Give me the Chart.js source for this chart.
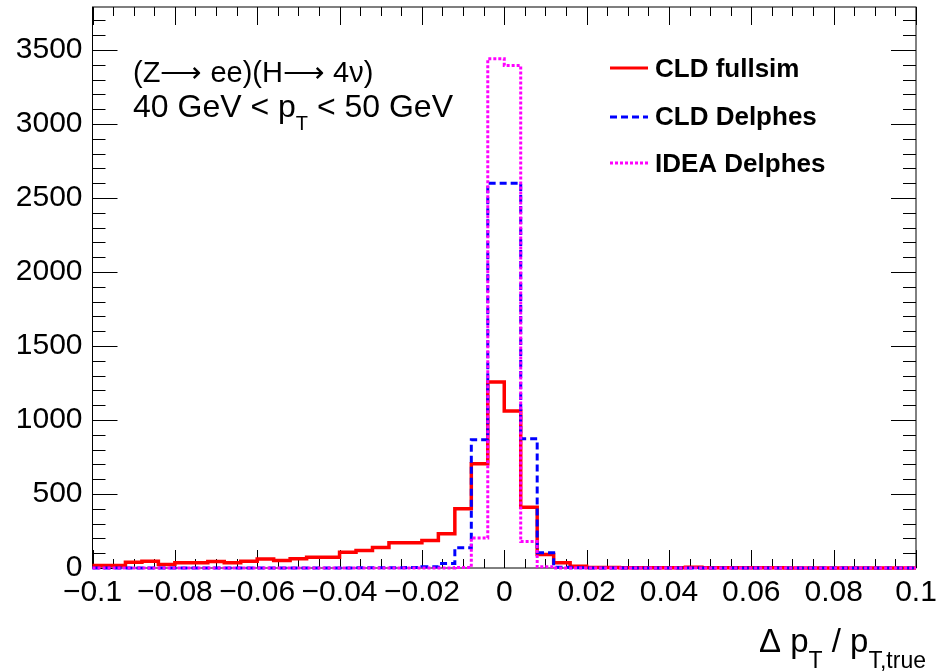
<!DOCTYPE html>
<html>
<head>
<meta charset="utf-8">
<script src="https://cdn.jsdelivr.net/npm/chart.js@4.4.1/dist/chart.umd.min.js"></script>
<style>
  body { margin: 0; background: #fff; }
  canvas { display: block; }
</style>
</head>
<body>
<canvas id="myChart" width="943" height="671"></canvas>
<script>
// histogram binning: 50 bins from -0.1 to 0.1
const xLow = -0.1, xHigh = 0.1, nBins = 50;
const binEdges = [];
for (let i = 0; i <= nBins; i++) binEdges.push(+(xLow + i * (xHigh - xLow) / nBins).toFixed(4));

// bin contents
const cldFullsim = [17, 17, 39, 46, 24, 35, 35, 44, 35, 46,
                    60, 51, 62, 73, 73, 107, 118, 138, 170, 170,
                    186, 231, 400, 705, 1257, 1060, 411, 92, 35, 12,
                    4, 4, 2, 2, 2, 2, 5, 2, 1, 1,
                    1, 1, 0, 0, 0, 0, 0, 0, 0, 0];
const cldDelphes = [0, 0, 0, 0, 0, 0, 0, 0, 0, 0,
                    0, 0, 0, 0, 0, 0, 1, 2, 2, 3,
                    8, 30, 137, 867, 2600, 2600, 874, 103, 5, 1,
                    0, 0, 0, 0, 0, 0, 0, 0, 0, 0,
                    0, 0, 0, 0, 0, 0, 0, 0, 0, 0];
const ideaDelphes = [0, 0, 0, 0, 0, 0, 0, 0, 0, 0,
                     0, 0, 0, 0, 0, 0, 0, 0, 0, 0,
                     0, 0, 3, 202, 3440, 3395, 179, 8, 0, 0,
                     0, 0, 0, 0, 0, 0, 0, 0, 0, 0,
                     0, 0, 0, 0, 0, 0, 0, 0, 0, 0];

const seriesNames = ["CLD fullsim", "CLD Delphes", "IDEA Delphes"];
const xTickValues = [-0.1, -0.08, -0.06, -0.04, -0.02, 0, 0.02, 0.04, 0.06, 0.08, 0.1];
const xTickLabels = ["\u22120.1", "\u22120.08", "\u22120.06", "\u22120.04", "\u22120.02", "0",
                     "0.02", "0.04", "0.06", "0.08", "0.1"];
const yTickValues = [0, 500, 1000, 1500, 2000, 2500, 3000, 3500];
const yMax = 3790;

function histPoints(values) {
  const pts = values.map((v, i) => ({ x: binEdges[i], y: v }));
  pts.push({ x: binEdges[nBins], y: values[nBins - 1] });
  return pts;
}

const FONT = "'Liberation Sans', Arial, Helvetica, sans-serif";

// draw a run of [text, fontSize, dy] pieces left to right
function drawPieces(ctx, pieces, x, y) {
  pieces.forEach(([t, size, dy]) => {
    ctx.font = size + "px " + FONT;
    ctx.fillText(t, x, y + dy);
    x += ctx.measureText(t).width;
  });
}

// ROOT-like frame with inward ticks on all four sides
const rootFrame = {
  id: "rootFrame",
  beforeDatasetsDraw(chart) {
    const { ctx, chartArea: a, scales: { x, y } } = chart;
    ctx.save();
    ctx.strokeStyle = "#000";
    ctx.lineWidth = 1;
    ctx.strokeRect(a.left, a.top, a.right - a.left, a.bottom - a.top);
    ctx.beginPath();
    for (let i = 0; i <= 40; i++) {
      const px = Math.round(x.getPixelForValue(xLow + i * 0.005)) + 0.5;
      const len = i % 4 === 0 ? 18 : 9;
      ctx.moveTo(px, a.bottom); ctx.lineTo(px, a.bottom - len);
      ctx.moveTo(px, a.top); ctx.lineTo(px, a.top + len);
    }
    for (let v = 0; v <= yMax; v += 100) {
      const py = Math.round(y.getPixelForValue(v)) + 0.5;
      const len = v % 500 === 0 ? 25 : 13;
      ctx.moveTo(a.left, py); ctx.lineTo(a.left + len, py);
      ctx.moveTo(a.right, py); ctx.lineTo(a.right - len, py);
    }
    ctx.stroke();
    ctx.restore();
  },
  afterDraw(chart) {
    const ctx = chart.ctx;
    ctx.save();
    ctx.fillStyle = "#000";
    ctx.textBaseline = "alphabetic";

    // info text
    ctx.font = "29px " + FONT;
    ctx.fillText("(Z\u27F6 ee)(H\u27F6 4\u03BD)", 133, 82);
    drawPieces(ctx, [["40 GeV < p", 32, 0], ["T", 20, 13], [" < 50 GeV", 32, 0]], 133, 117);

    // legend
    const legendRows = [
      { name: seriesNames[0], color: "#ff0000", dash: [], y: 68, base: 77 },
      { name: seriesNames[1], color: "#0000ff", dash: [7, 4], y: 117, base: 125 },
      { name: seriesNames[2], color: "#ff00ff", dash: [3, 2], y: 163, base: 172 }
    ];
    legendRows.forEach(r => {
      ctx.strokeStyle = r.color;
      ctx.lineWidth = 3;
      ctx.setLineDash(r.dash);
      ctx.beginPath();
      ctx.moveTo(610, r.y); ctx.lineTo(648, r.y);
      ctx.stroke();
      ctx.setLineDash([]);
      ctx.font = "bold 26px " + FONT;
      ctx.fillText(r.name, 655, r.base);
    });

    // x axis title, right aligned
    const title = [["\u0394 p", 33, 0], ["T", 23, 16], [" / p", 33, 0], ["T,true", 23, 16]];
    let w = 0;
    title.forEach(([t, size]) => { ctx.font = size + "px " + FONT; w += ctx.measureText(t).width; });
    drawPieces(ctx, title, 926 - w, 652);
    ctx.restore();
  }
};

const lineStyle = { pointRadius: 0, borderWidth: 3, stepped: true, fill: false,
                    borderJoinStyle: "miter", borderCapStyle: "butt", clip: 4 };

new Chart(document.getElementById("myChart").getContext("2d"), {
  type: "line",
  data: {
    datasets: [
      Object.assign({ label: seriesNames[2], data: histPoints(ideaDelphes),
        borderColor: "#ff00ff", borderDash: [3, 2], order: 1 }, lineStyle),
      Object.assign({ label: seriesNames[1], data: histPoints(cldDelphes),
        borderColor: "#0000ff", borderDash: [7, 4], order: 2 }, lineStyle),
      Object.assign({ label: seriesNames[0], data: histPoints(cldFullsim),
        borderColor: "#ff0000", order: 3 }, lineStyle, { borderWidth: 3.5 })
    ]
  },
  options: {
    responsive: false,
    animation: false,
    layout: { padding: { top: 7, right: 27, left: 0, bottom: 0 } },
    plugins: {
      legend: { display: false },
      tooltip: { enabled: false }
    },
    scales: {
      x: {
        type: "linear",
        min: xLow,
        max: xHigh,
        grid: { display: false, drawTicks: false },
        border: { display: false },
        afterBuildTicks: s => { s.ticks = xTickValues.map(v => ({ value: v })); },
        ticks: {
          autoSkip: false,
          maxRotation: 0,
          padding: 7,
          color: "#000",
          font: { family: FONT, size: 30 },
          callback: (v, i) => xTickLabels[i]
        },
        afterFit: s => { s.height = 103; s.paddingLeft = 0; s.paddingRight = 0; }
      },
      y: {
        min: 0,
        max: yMax,
        grid: { display: false, drawTicks: false },
        border: { display: false },
        afterBuildTicks: s => { s.ticks = yTickValues.map(v => ({ value: v })); },
        ticks: {
          autoSkip: false,
          padding: 10,
          color: "#000",
          font: { family: FONT, size: 30 },
          callback: v => String(v)
        },
        afterFit: s => { s.width = 92.5; s.paddingTop = 0; s.paddingBottom = 0; }
      }
    }
  },
  plugins: [rootFrame]
});
</script>
</body>
</html>
